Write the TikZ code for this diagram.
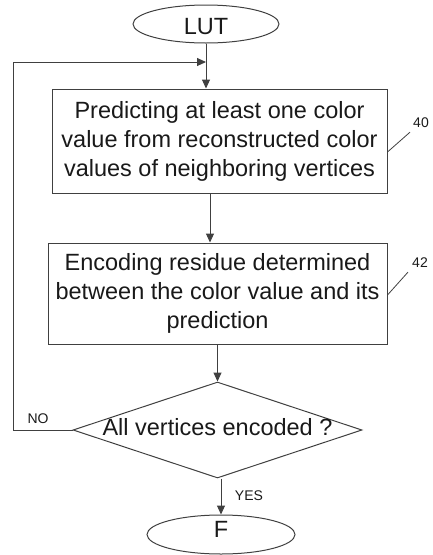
\documentclass[tikz,border=0pt]{standalone}
\usepackage{fontspec}
\setmainfont{Liberation Sans}
\usetikzlibrary{shapes.geometric,arrows.meta}
\begin{document}
\begin{tikzpicture}[x=1pt,y=-1pt,
  line/.style={draw=black!75,line width=1pt},
  arr/.style={line,-{Triangle[length=9pt,width=8pt]}},
  big/.style={font=\fontsize{23.5}{29}\selectfont,text=black!90},
  small/.style={font=\fontsize{14}{16}\selectfont,text=black!90,inner sep=0pt},
  stepbox/.style={line,rectangle,big,align=center,inner sep=0pt},
  term/.style={line,ellipse,big,inner sep=0pt},
]
\useasboundingbox (0,0) rectangle (433,555);
\node[term,minimum width=146pt,minimum height=38pt,text height=22pt] (lut) at (206,24) {LUT};
\node[stepbox,minimum width=335pt,minimum height=104pt] (p) at (219.5,141)
  {Predicting at least one color\\value from reconstructed color\\values of neighboring vertices};
\node[stepbox,minimum width=339pt,minimum height=101pt] (e) at (217.5,293.5)
  {Encoding residue determined\\between the color value and its\\prediction};
\node[line,diamond,minimum width=289pt,minimum height=96pt,inner sep=0pt,
  label={[big,yshift=3pt]center:All vertices encoded ?}] (d) at (217.5,430) {};
\node[term,minimum width=148pt,minimum height=39pt,text depth=10pt] (f) at (221,534.5) {F};
\node[small] (n40) at (421,123) {40};
\node[small] (n42) at (420,263) {42};
\node[small] (no) at (38,419) {NO};
\node[small] (yes) at (249,496) {YES};
\coordinate (join) at (206,62);
\coordinate (loopL) at (13,62);
% connectors
\draw[arr] (lut.south) -- (lut.south |- p.north);
\draw[arr] ([xshift=-9.5pt]p.south) -- ([xshift=-9.5pt]p.south |- e.north);
\draw[arr] (e.south -| d.north) -- (d.north);
\draw[arr] (d.south -| f.north) -- (f.north);
\draw[arr] (d.west) -| (loopL) -- (join);
% reference leaders
\draw[line,line width=0.8pt] ([yshift=-11pt]p.east) -- ([shift={(-3pt,-4pt)}]n40.south west);
\draw[line,line width=0.8pt] ([yshift=-1.5pt]e.east) -- ([shift={(-4pt,-4pt)}]n42.south west);
\end{tikzpicture}
\end{document}
